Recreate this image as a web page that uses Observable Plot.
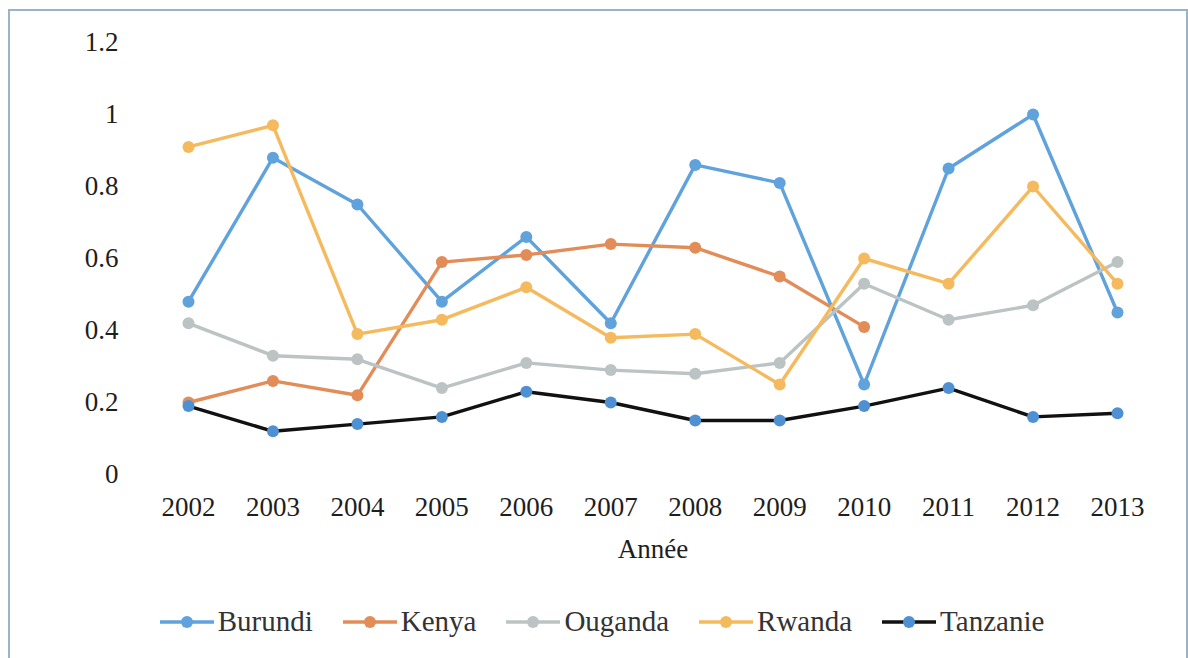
<!DOCTYPE html>
<html>
<head>
<meta charset="utf-8">
<script src="https://cdn.jsdelivr.net/npm/d3@7"></script>
<script src="https://cdn.jsdelivr.net/npm/@observablehq/plot@0.6"></script>
<style>
  html, body { margin: 0; padding: 0; background: #fff; }
  body { width: 1188px; height: 658px; position: relative; overflow: hidden; font-family: "Liberation Serif", "DejaVu Serif", serif; }
  #frame { position: absolute; left: 8px; top: 9px; width: 1180px; height: 680px; border: 2px solid #9bb3c9; border-bottom: none; box-sizing: border-box; }
  #chart { position: absolute; left: 0; top: 0; }
  #legend { position: absolute; left: 0; top: 605px; width: 1188px; display: flex; justify-content: center; gap: 28px; font-size: 29px; color: #333; padding-left: 14px; box-sizing: border-box; }
  .item { display: flex; align-items: center; }
  .item svg { margin-right: 2px; }
</style>
</head>
<body>
<div id="frame"></div>
<div id="chart"></div>
<div id="legend"></div>
<script>
const years = [2002, 2003, 2004, 2005, 2006, 2007, 2008, 2009, 2010, 2011, 2012, 2013];
const seriesNames = ["Burundi", "Kenya", "Ouganda", "Rwanda", "Tanzanie"];
const burundi  = [0.48, 0.88, 0.75, 0.48, 0.66, 0.42, 0.86, 0.81, 0.25, 0.85, 1.00, 0.45];
const kenya    = [0.20, 0.26, 0.22, 0.59, 0.61, 0.64, 0.63, 0.55, 0.41, null, null, null];
const ouganda  = [0.42, 0.33, 0.32, 0.24, 0.31, 0.29, 0.28, 0.31, 0.53, 0.43, 0.47, 0.59];
const rwanda   = [0.91, 0.97, 0.39, 0.43, 0.52, 0.38, 0.39, 0.25, 0.60, 0.53, 0.80, 0.53];
const tanzanie = [0.19, 0.12, 0.14, 0.16, 0.23, 0.20, 0.15, 0.15, 0.19, 0.24, 0.16, 0.17];
const yTicks = [0, 0.2, 0.4, 0.6, 0.8, 1, 1.2];

const lineColors   = {Burundi: "#5fa2dc", Kenya: "#e28c58", Ouganda: "#bcc3c3", Rwanda: "#f5ba5e", Tanzanie: "#111111"};
const markerColors = {Burundi: "#5fa2dc", Kenya: "#e28c58", Ouganda: "#bcc3c3", Rwanda: "#f5ba5e", Tanzanie: "#4f90d2"};

const valuesBySeries = [burundi, kenya, ouganda, rwanda, tanzanie];
const data = [];
seriesNames.forEach((name, i) => {
  years.forEach((yr, j) => {
    const v = valuesBySeries[i][j];
    if (v != null) data.push({series: name, year: yr, value: v});
  });
});

const marks = [];
seriesNames.forEach(name => {
  const d = data.filter(r => r.series === name);
  marks.push(Plot.line(d, {x: "year", y: "value", stroke: lineColors[name], strokeWidth: 3.4}));
  marks.push(Plot.dot(d, {x: "year", y: "value", fill: markerColors[name], r: 6, stroke: "none"}));
});

const chart = Plot.plot({
  width: 1188,
  height: 580,
  marginLeft: 188,
  marginRight: 71,
  marginTop: 42,
  marginBottom: 106,
  style: {fontFamily: "Liberation Serif, serif", fontSize: "27px", color: "#1e1e1e", background: "transparent"},
  x: {domain: [2002, 2013], ticks: years, tickFormat: d => String(d), tickSize: 0, tickPadding: 22, label: "Année", labelAnchor: "center", labelArrow: "none", labelOffset: 83},
  y: {domain: [0, 1.2], ticks: yTicks, tickFormat: d => String(d), tickSize: 0, tickPadding: 70, label: null},
  marks
});
document.getElementById("chart").appendChild(chart);

const legend = document.getElementById("legend");
seriesNames.forEach(name => {
  const item = document.createElement("div");
  item.className = "item";
  item.innerHTML = `<svg width="58" height="20"><line x1="2" y1="10" x2="56" y2="10" stroke="${lineColors[name]}" stroke-width="3.4"/><circle cx="29" cy="10" r="6" fill="${markerColors[name]}"/></svg><span>${name}</span>`;
  legend.appendChild(item);
});
</script>
</body>
</html>
